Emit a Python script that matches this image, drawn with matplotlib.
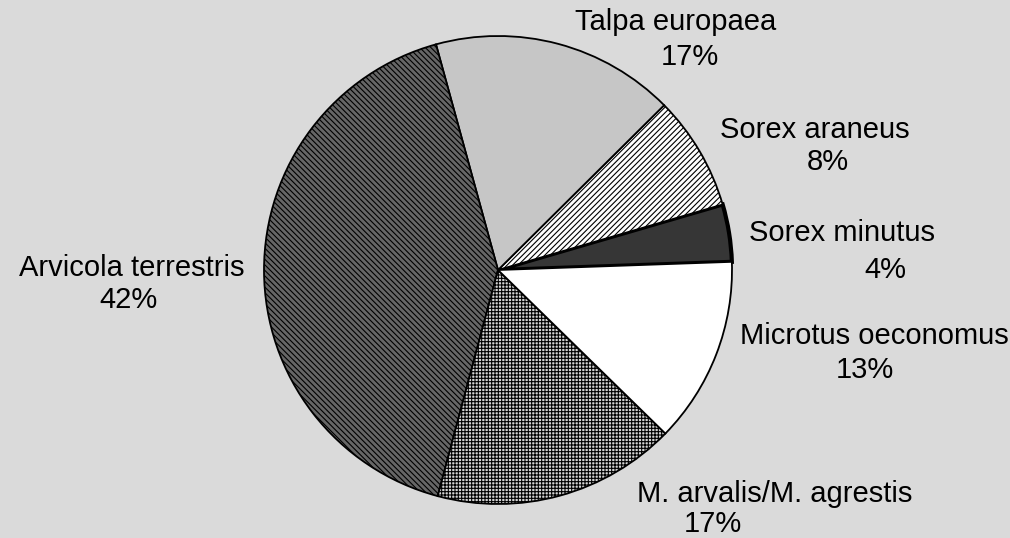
import matplotlib.pyplot as plt

plt.rcParams['font.family'] = ['Liberation Sans', 'DejaVu Sans']
plt.rcParams['hatch.linewidth'] = 0.8

# species shares (%), counter-clockwise from the right
species = ['Sorex minutus', 'Sorex araneus', 'Talpa europaea',
           'Arvicola terrestris', 'M. arvalis/M. agrestis', 'Microtus oeconomus']
shares = [4, 8, 17, 42, 17, 13]
pct_labels = ['4%', '8%', '17%', '42%', '17%', '13%']

fills = ['#363636', 'white', '#c6c6c6', '#666666', '#d4d4d4', 'white']
hatches = [None, '//////', None, '\\\\\\\\\\\\', '+++++', None]

fig = plt.figure(figsize=(10.1, 5.38), dpi=100, facecolor='#dadada')
ax = fig.add_axes([0, 0, 1, 1])

wedges, _ = ax.pie(shares, center=(498, 268), radius=234, startangle=2,
                   counterclock=True, colors=fills,
                   wedgeprops=dict(edgecolor='black', linewidth=1.3))
for w, h in zip(wedges, hatches):
    if h:
        w.set_hatch(h)
wedges[0].set_linewidth(3)

ax.set_xlim(0, 1010)
ax.set_ylim(0, 538)
ax.set_aspect('equal')
ax.axis('off')

# label positions in pixels (x, y from top)
lab_pos = [(842, 233), (815, 130), (676, 22), (132, 268), (775, 494), (874, 336)]
pct_pos = [(885, 270), (828, 162), (690, 57), (128, 300), (713, 524), (865, 370)]

for name, pct, (lx, ly), (px, py) in zip(species, pct_labels, lab_pos, pct_pos):
    ax.text(lx, 538 - ly, name, ha='center', va='center', fontsize=21)
    ax.text(px, 538 - py, pct, ha='center', va='center', fontsize=21)

fig.savefig('out.png', dpi=100, facecolor=fig.get_facecolor())
